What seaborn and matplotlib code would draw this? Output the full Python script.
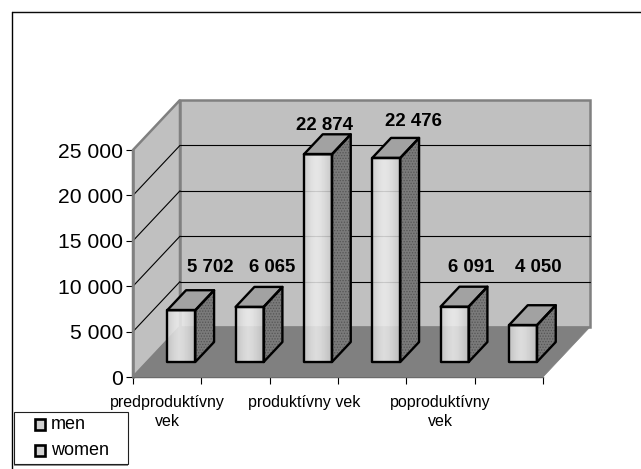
#!/usr/bin/env python3
import numpy as np
import pandas as pd
import matplotlib
matplotlib.use("Agg")
import matplotlib.pyplot as plt
import seaborn as sns
from matplotlib.lines import Line2D
from matplotlib.patches import Polygon, Rectangle
from matplotlib.transforms import Affine2D, IdentityTransform

groups = ["predproduktívny\nvek", "produktívny vek", "poproduktívny\nvek"]
series = ["men", "women"]
men_values = [5702, 22874, 6091]
women_values = [6065, 22476, 4050]
y_ticks = [0, 5000, 10000, 15000, 20000, 25000]

W, H = 641, 469
DEPTH = (47, 50)  # pixel shift from front plane to back wall
BAR_FRONT, BAR_BACK = 0.3, 0.7

# hand placed value labels in the original (pixels)
label_xy = [(210, 268), (272, 268), (325, 125), (413, 122), (471, 268), (538, 268)]

sns.set_theme(style="white")
plt.rcParams["font.family"] = ["Liberation Sans", "DejaVu Sans"]
plt.rcParams["hatch.linewidth"] = 0.6

rows = []
for i, g in enumerate(groups):
    rows.append({"slot": f"{i}-men", "sex": "men", "value": men_values[i]})
    rows.append({"slot": f"{i}-women", "sex": "women", "value": women_values[i]})
df = pd.DataFrame(rows)

fig = plt.figure(figsize=(W / 100, H / 100), dpi=100, facecolor="white")
# front plane of the 3D box: x 133-543, 0 at y=377, 25 000 at y=150
ax = fig.add_axes([133 / W, 1 - 377 / H, 410 / W, 227 / H])
ax.patch.set_visible(False)

sns.barplot(data=df, x="slot", y="value", color="#e6e6e6", width=0.41, saturation=1,
            errorbar=None, ax=ax, zorder=5)
ax.set_xlim(-0.5, 5.5)
ax.set_ylim(0, 25000)
ax.set_xlabel("")
ax.set_ylabel("")


def to_px(x, v, depth=0.0):
    px, py = ax.transData.transform((x, v))
    return px + DEPTH[0] * depth, py + DEPTH[1] * depth


def poly(points, z, **kw):
    kw.setdefault("linewidth", 0)
    ax.add_patch(Polygon(points, closed=True, transform=IdentityTransform(),
                         clip_on=False, zorder=z, **kw))


def line(a, b, z=2, color="black", lw=0.8):
    ax.add_line(Line2D([a[0], b[0]], [a[1], b[1]], transform=IdentityTransform(),
                       color=color, linewidth=lw, clip_on=False, zorder=z))


# walls and floor
x0, x1 = ax.get_xlim()
top = y_ticks[-1]
poly([to_px(x0, 0), to_px(x0, top), to_px(x0, top, 1), to_px(x0, 0, 1)], 1,
     facecolor="#c0c0c0", edgecolor="#808080", linewidth=1.8)
poly([to_px(x0, 0, 1), to_px(x0, top, 1), to_px(x1, top, 1), to_px(x1, 0, 1)], 1,
     facecolor="#c0c0c0", edgecolor="#808080", linewidth=1.8)
for v in y_ticks[1:-1]:
    line(to_px(x0, v), to_px(x0, v, 1))
    line(to_px(x0, v, 1), to_px(x1, v, 1))
poly([to_px(x0, 0), to_px(x1, 0), to_px(x1, 0, 1), to_px(x0, 0, 1)], 3,
     facecolor="#808080", edgecolor="#808080", linewidth=0.5)

# bars: seaborn draws the front face, depth faces are built from it
shift = Affine2D().translate(DEPTH[0] * BAR_FRONT, DEPTH[1] * BAR_FRONT)
front_tr = ax.transData + shift
shade = np.array([[0.84, 0.90, 0.93, 0.91, 0.86, 0.80]])
bars = list(ax.patches)[:len(df)]
for p in bars:
    xa, xb = p.get_x(), p.get_x() + p.get_width()
    h = p.get_height()
    ax.imshow(shade, cmap="gray", vmin=0, vmax=1, aspect="auto", alpha=0.85,
              extent=(xa, xb, 0, h), transform=front_tr, zorder=4,
              clip_on=False, interpolation="bilinear")
    p.set_transform(front_tr)
    p.set_facecolor("none")
    p.set_edgecolor("black")
    p.set_linewidth(1.7)
    p.set_clip_on(False)
    p.set_joinstyle("round")
    side = [to_px(xb, 0, BAR_FRONT), to_px(xb, h, BAR_FRONT),
            to_px(xb, h, BAR_BACK), to_px(xb, 0, BAR_BACK)]
    cap = [to_px(xa, h, BAR_FRONT), to_px(xb, h, BAR_FRONT),
           to_px(xb, h, BAR_BACK), to_px(xa, h, BAR_BACK)]
    poly(side, 4, facecolor="#7a7a7a", edgecolor="#555555", hatch="......")
    poly(side, 4.1, facecolor="none", edgecolor="black", linewidth=1.7, joinstyle="round")
    poly(cap, 4, facecolor="#a2a2a2", edgecolor="black", linewidth=1.7, joinstyle="round")
ax.set_xlim(x0, x1)
ax.set_ylim(0, top)

# value labels
values = df["value"].tolist()
for v, (lx, ly) in zip(values, label_xy):
    fig.text(lx / W, 1 - ly / H, f"{v:,}".replace(",", " "), ha="center", va="center",
             fontsize=13.4, fontweight="bold", color="black")

# axes
sns.despine(ax=ax, top=True, right=True)
ax.spines["left"].set_color("#808080")
ax.spines["left"].set_linewidth(1.8)
ax.spines["left"].set_zorder(2)
ax.spines["bottom"].set_color("#606060")
ax.spines["bottom"].set_linewidth(1.0)
ax.set_yticks(y_ticks, [f"{v:,}".replace(",", " ") for v in y_ticks], fontsize=15.2)
ax.tick_params(axis="y", left=True, length=5, width=0.8, color="black", pad=2)
ax.set_xticks([0, 2, 4], groups, fontsize=11.5)
ax.set_xticks(np.arange(-0.5, 6), minor=True)
ax.tick_params(axis="x", which="major", bottom=False, pad=7)
ax.tick_params(axis="x", which="minor", bottom=True, length=5, width=0.8, color="black")
for t in ax.get_xticklabels():
    t.set_linespacing(1.35)
    t.set_color("black")
for t in ax.get_yticklabels():
    t.set_color("black")

# chart frame: only the top and left edges are there
fig.add_artist(Line2D([12 / W, 1], [1 - 12 / H, 1 - 12 / H], color="black", linewidth=1.0,
                      transform=fig.transFigure))
fig.add_artist(Line2D([12 / W, 1], [1 - 10.8 / H, 1 - 10.8 / H], color="#c8c8c8", linewidth=0.8,
                      transform=fig.transFigure))
fig.add_artist(Line2D([12 / W, 12 / W], [1 - 12 / H, 0], color="black", linewidth=1.0,
                      transform=fig.transFigure))

# legend box, with the gray shadow along its bottom edge
fig.add_artist(Rectangle((14 / W, 1 - 465.5 / H), 114 / W, 53 / H, facecolor="#909090",
                         edgecolor="none", transform=fig.transFigure))
fig.add_artist(Rectangle((13.5 / W, 1 - 464 / H), 114 / W, 52 / H, facecolor="white",
                         edgecolor="#202020", linewidth=0.8, transform=fig.transFigure))
for name, sy in zip(series, (424.5, 450.5)):
    fig.add_artist(Rectangle((34.5 / W, 1 - (sy + 5.5) / H), 10 / W, 11 / H, facecolor="#d0d0d0",
                             edgecolor="black", linewidth=1.9, transform=fig.transFigure))
    fig.text(51 / W, 1 - sy / H, name, ha="left", va="center", fontsize=13, color="black")

fig.savefig("out.png", dpi=100)
